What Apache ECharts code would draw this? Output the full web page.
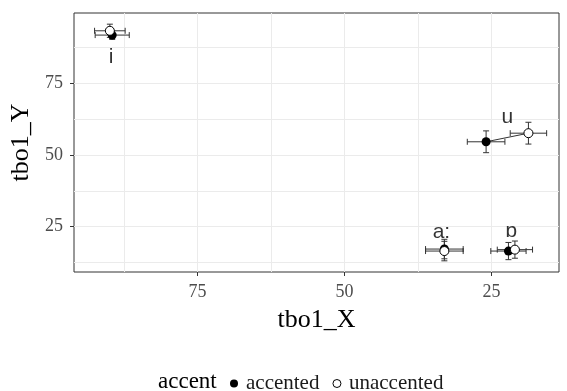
<!DOCTYPE html>
<html>
<head>
<meta charset="utf-8">
<script src="https://cdn.jsdelivr.net/npm/echarts@6/dist/echarts.min.js"></script>
<style>
  html, body { margin: 0; padding: 0; background: #fff; }
  #chart { width: 567px; height: 391px; }
</style>
</head>
<body>
<div id="chart"></div>
<script>
// vowel means with +/- error
const vowels = ['i', 'u', 'a:', 'ɒ'];
const accX = [89.5, 25.9, 33.0, 22.1];
const accY = [91.8, 54.6, 17.2, 16.5];
const accXerr = [2.9, 3.2, 3.2, 3.0];
const accYerr = [1.5, 3.8, 3.4, 3.0];
const unaccX = [89.9, 18.7, 33.0, 21.0];
const unaccY = [93.3, 57.6, 16.5, 17.0];
const unaccXerr = [2.6, 3.1, 3.2, 3.0];
const unaccYerr = [2.3, 3.8, 3.4, 3.0];
// where the vowel labels sit
const labelX = [89.7, 22.3, 33.5, 21.6];
const labelY = [84.2, 63.2, 23.2, 23.5];

const xTicks = [25, 50, 75];
const yTicks = [25, 50, 75];
const xGrid = [25, 37.5, 50, 62.5, 75, 87.5];
const yGrid = [12.5, 25, 37.5, 50, 62.5, 75, 87.5];

const xRange = [13.5, 96];
const yRange = [9.2, 99.5];

const serif = 'Liberation Serif';
const sans = 'Liberation Sans';

const chart = echarts.init(document.getElementById('chart'));

function errRows(xs, ys, ex, ey) {
  return xs.map((x, i) => [x, ys[i], ex[i], ey[i]]);
}

function renderErr(params, api) {
  const x = api.value(0), y = api.value(1), ex = api.value(2), ey = api.value(3);
  const l = api.coord([x - ex, y]), r = api.coord([x + ex, y]);
  const t = api.coord([x, y + ey]), b = api.coord([x, y - ey]);
  const cap = 3;
  const st = { stroke: '#333', lineWidth: 1 };
  const seg = (x1, y1, x2, y2) => ({ type: 'line', shape: { x1, y1, x2, y2 }, style: st });
  return {
    type: 'group',
    children: [
      seg(l[0], l[1], r[0], r[1]),
      seg(l[0], l[1] - cap, l[0], l[1] + cap),
      seg(r[0], r[1] - cap, r[0], r[1] + cap),
      seg(t[0], t[1], b[0], b[1]),
      seg(t[0] - cap, t[1], t[0] + cap, t[1]),
      seg(b[0] - cap, b[1], b[0] + cap, b[1])
    ]
  };
}

const pairLines = vowels.map((v, i) => ({
  type: 'line',
  xAxisIndex: 1,
  data: [[accX[i], accY[i]], [unaccX[i], unaccY[i]]],
  symbol: 'none',
  lineStyle: { color: '#333', width: 1 },
  silent: true,
  z: 2
}));

const option = {
  backgroundColor: '#fff',
  animation: false,
  title: {
    text: 'accent',
    left: 153,
    top: 365,
    textStyle: { fontFamily: serif, fontSize: 23, fontWeight: 'normal', color: '#000' }
  },
  legend: {
    left: 225,
    top: 368,
    itemWidth: 14,
    itemHeight: 8,
    itemGap: 13,
    textStyle: { fontFamily: serif, fontSize: 21, color: '#1a1a1a' },
    data: [
      { name: 'accented', icon: 'circle', itemStyle: { color: '#000' } },
      { name: 'unaccented', icon: 'circle', itemStyle: { color: '#fff', borderColor: '#000', borderWidth: 1 } }
    ]
  },
  grid: {
    left: 73, right: 8, top: 13, bottom: 119,
    show: true, borderColor: '#333', borderWidth: 1, backgroundColor: 'transparent'
  },
  xAxis: [
    {
      // grid lines only
      type: 'value', inverse: true, min: xRange[0], max: xRange[1],
      axisLine: { show: false },
      axisTick: { show: false, customValues: xGrid },
      axisLabel: { show: false, customValues: xGrid },
      splitLine: { show: true, lineStyle: { color: '#ebebeb', width: 1 } }
    },
    {
      type: 'value', inverse: true, min: xRange[0], max: xRange[1], position: 'bottom',
      name: 'tbo1_X', nameLocation: 'middle', nameGap: 35,
      nameTextStyle: { fontFamily: serif, fontSize: 26, color: '#000' },
      axisLine: { show: false },
      axisTick: { show: true, length: 4, customValues: xTicks, lineStyle: { color: '#333' } },
      axisLabel: { customValues: xTicks, margin: 11, fontFamily: serif, fontSize: 18, color: '#4d4d4d' },
      splitLine: { show: false }
    }
  ],
  yAxis: [
    {
      type: 'value', min: yRange[0], max: yRange[1],
      name: 'tbo1_Y', nameLocation: 'middle', nameGap: 40,
      nameTextStyle: { fontFamily: serif, fontSize: 26, color: '#000' },
      axisLine: { show: false },
      axisTick: { show: true, length: 4, customValues: yTicks, lineStyle: { color: '#333' } },
      axisLabel: { customValues: yTicks, margin: 11, fontFamily: serif, fontSize: 18, color: '#4d4d4d' },
      splitLine: { show: false }
    },
    {
      type: 'value', min: yRange[0], max: yRange[1],
      axisLine: { show: false },
      axisTick: { show: false, customValues: yGrid },
      axisLabel: { show: false, customValues: yGrid },
      splitLine: { show: true, lineStyle: { color: '#ebebeb', width: 1 } }
    }
  ],
  series: [
    ...pairLines,
    {
      type: 'custom', xAxisIndex: 1, renderItem: renderErr,
      data: errRows(accX, accY, accXerr, accYerr), silent: true, z: 3
    },
    {
      type: 'custom', xAxisIndex: 1, renderItem: renderErr,
      data: errRows(unaccX, unaccY, unaccXerr, unaccYerr), silent: true, z: 3
    },
    {
      name: 'accented', type: 'scatter', xAxisIndex: 1,
      data: accX.map((x, i) => [x, accY[i]]),
      symbol: 'circle', symbolSize: 9,
      itemStyle: { color: '#000', opacity: 1 }, z: 4
    },
    {
      name: 'unaccented', type: 'scatter', xAxisIndex: 1,
      data: unaccX.map((x, i) => [x, unaccY[i]]),
      symbol: 'circle', symbolSize: 9,
      itemStyle: { color: '#fff', borderColor: '#000', borderWidth: 1, opacity: 1 }, z: 5
    },
    {
      type: 'scatter', xAxisIndex: 1,
      data: labelX.map((x, i) => ({ value: [x, labelY[i]], name: vowels[i] })),
      symbolSize: 0, silent: true, z: 6,
      label: {
        show: true, position: 'inside', formatter: p => p.name,
        fontFamily: sans, fontSize: 21, color: '#000'
      }
    }
  ]
};

chart.setOption(option);
</script>
</body>
</html>
